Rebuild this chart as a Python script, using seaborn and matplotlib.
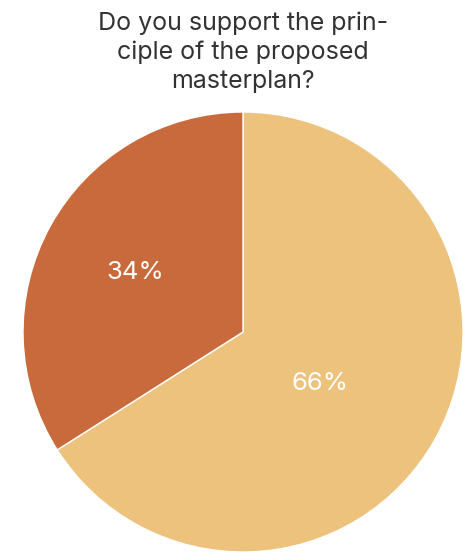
import numpy as np
import matplotlib
matplotlib.use("Agg")
import matplotlib.pyplot as plt
import seaborn as sns

categories = ["Yes", "No"]
values = [66, 34]
colors = ["#EDC27D", "#C96A3D"]
label_dist = [0.42, 0.56]
label_angle_shift = [-5, 0]
title = "Do you support the prin-\nciple of the proposed\nmasterplan?"

sns.set_theme(style="white")
plt.rcParams['font.family'] = ['Inter', 'DejaVu Sans']

fig = plt.figure(figsize=(4.63, 5.53), dpi=100)
ax = fig.add_axes([0.0497, 0.0018, 0.9503, 0.7957])
pal = sns.color_palette(colors)
wedges, texts, autotexts = ax.pie(values, colors=pal, startangle=90, counterclock=False,
                                  autopct=lambda p: f"{p:.0f}%",
                                  wedgeprops=dict(edgecolor="white", linewidth=1),
                                  textprops=dict(color="white", fontsize=18.5))
for w, t, d, s in zip(wedges, autotexts, label_dist, label_angle_shift):
    ang = np.deg2rad((w.theta1 + w.theta2) / 2 + s)
    t.set_position((d * np.cos(ang), d * np.sin(ang)))
ax.set_xlim(-1, 1)
ax.set_ylim(-1, 1)
ax.set_aspect("equal")
fig.text(0.524, 0.98, title, ha="center", va="top", fontsize=18, color="#333333",
         linespacing=1.32)
fig.savefig("out.png", dpi=100)
